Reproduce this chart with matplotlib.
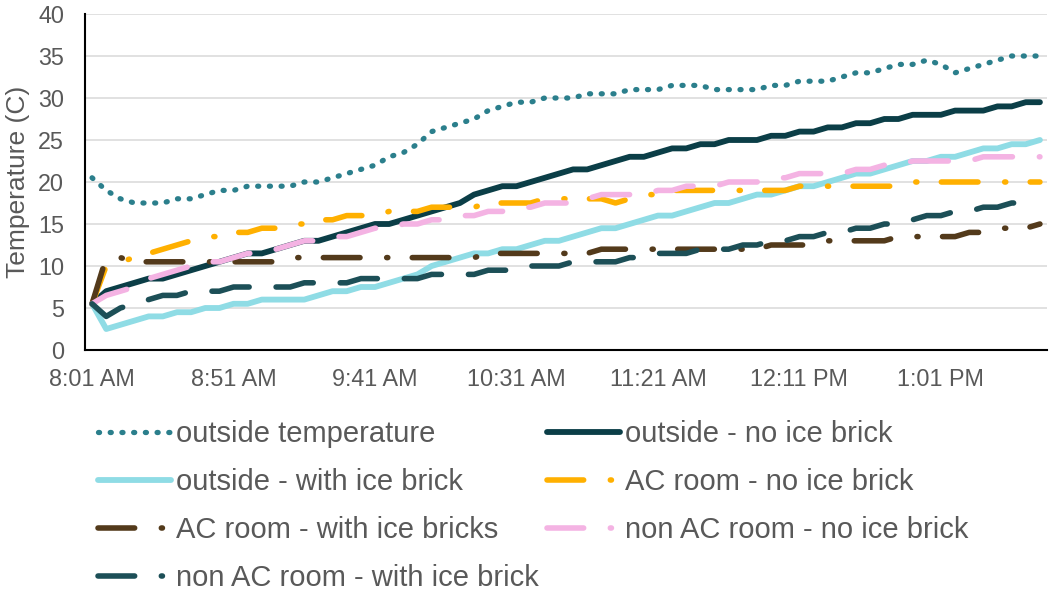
import matplotlib
matplotlib.use("Agg")
import matplotlib.pyplot as plt
from matplotlib.lines import Line2D

plt.rcParams['font.family'] = ['Liberation Sans', 'DejaVu Sans']

# Readings every 5 minutes from 8:01 AM to 1:36 PM
tick_labels = ["8:01 AM", "8:51 AM", "9:41 AM", "10:31 AM", "11:21 AM", "12:11 PM", "1:01 PM"]
tick_step = 10

outside_temp = [20.5, 19, 18, 17.5, 17.5, 17.5, 18, 18, 18.5, 19,
                19, 19.5, 19.5, 19.5, 19.5, 20, 20, 20.5, 21, 21.5,
                22, 23, 23.5, 24.5, 26, 26.5, 27, 27.5, 28.5, 29,
                29.5, 29.5, 30, 30, 30, 30.5, 30.5, 30.5, 31, 31,
                31, 31.5, 31.5, 31.5, 31, 31, 31, 31, 31.5, 31.5,
                32, 32, 32, 32.5, 33, 33, 33.5, 34, 34, 34.5,
                34, 33, 33.5, 34, 34.5, 35, 35, 35]
outside_no_ice = [5.5, 7, 7.5, 8, 8.5, 8.5, 9, 9.5, 10, 10.5,
                  11, 11.5, 11.5, 12, 12.5, 13, 13, 13.5, 14, 14.5,
                  15, 15, 15.5, 16, 16.5, 17, 17.5, 18.5, 19, 19.5,
                  19.5, 20, 20.5, 21, 21.5, 21.5, 22, 22.5, 23, 23,
                  23.5, 24, 24, 24.5, 24.5, 25, 25, 25, 25.5, 25.5,
                  26, 26, 26.5, 26.5, 27, 27, 27.5, 27.5, 28, 28,
                  28, 28.5, 28.5, 28.5, 29, 29, 29.5, 29.5]
outside_with_ice = [5.5, 2.5, 3, 3.5, 4, 4, 4.5, 4.5, 5, 5,
                    5.5, 5.5, 6, 6, 6, 6, 6.5, 7, 7, 7.5,
                    7.5, 8, 8.5, 9, 10, 10.5, 11, 11.5, 11.5, 12,
                    12, 12.5, 13, 13, 13.5, 14, 14.5, 14.5, 15, 15.5,
                    16, 16, 16.5, 17, 17.5, 17.5, 18, 18.5, 18.5, 19,
                    19.5, 19.5, 20, 20.5, 21, 21, 21.5, 22, 22.5, 22.5,
                    23, 23, 23.5, 24, 24, 24.5, 24.5, 25]
ac_no_ice = [5.5, 10, 10.5, 11, 11.5, 12, 12.5, 13, 13.5, 13.5,
             14, 14, 14.5, 14.5, 15, 15, 15.5, 15.5, 16, 16,
             16, 16.5, 16.5, 16.5, 17, 17, 17, 17, 17.5, 17.5,
             17.5, 17.5, 18, 18, 18, 18, 18, 17.5, 18, 18.5,
             18.5, 19, 19, 19, 19, 19, 19, 19, 19, 19,
             19.5, 19.5, 19.5, 19.5, 19.5, 19.5, 19.5, 19.5, 20, 20,
             20, 20, 20, 20, 20, 20, 20, 20]
ac_with_ice = [5.5, 11, 11, 10.5, 10.5, 10.5, 10.5, 10.5, 10.5, 10.5,
               10.5, 10.5, 10.5, 10.5, 11, 11, 11, 11, 11, 11,
               11, 11, 11, 11, 11, 11, 11, 11, 11.5, 11.5,
               11.5, 11.5, 11.5, 11.5, 11.5, 11.5, 12, 12, 12, 12,
               12, 12, 12, 12, 12, 12, 12, 12, 12.5, 12.5,
               12.5, 12.5, 13, 13, 13, 13, 13, 13.5, 13.5, 13.5,
               13.5, 13.5, 14, 14, 14.5, 14.5, 14.5, 15]
nonac_no_ice = [5.5, 6.5, 7, 7.5, 8.5, 9, 9.5, 10, 10.5, 10.5,
                11, 11.5, 11.5, 12, 12.5, 13, 13, 13.5, 13.5, 14,
                14.5, 14.5, 15, 15, 15.5, 15.5, 16, 16, 16.5, 16.5,
                17, 17, 17.5, 17.5, 17.5, 18, 18.5, 18.5, 18.5, 18.5,
                19, 19, 19.5, 19.5, 19.5, 20, 20, 20, 20.5, 20.5,
                21, 21, 21, 21, 21.5, 21.5, 22, 22, 22.5, 22.5,
                22.5, 22.5, 22.5, 23, 23, 23, 23, 23]
nonac_with_ice = [5.5, 4, 5, 5.5, 6, 6.5, 6.5, 7, 7, 7,
                  7.5, 7.5, 7.5, 7.5, 7.5, 8, 8, 8, 8, 8.5,
                  8.5, 8.5, 8.5, 8.5, 9, 9, 9, 9, 9.5, 9.5,
                  9.5, 10, 10, 10, 10.5, 10.5, 10.5, 10.5, 11, 11,
                  11.5, 11.5, 11.5, 12, 12, 12, 12.5, 12.5, 13, 13,
                  13.5, 13.5, 14, 14, 14.5, 14.5, 15, 15, 15.5, 16,
                  16, 16.5, 16.5, 17, 17, 17.5, 17.5, 17.5]

series_names = ["outside temperature", "outside - no ice brick", "outside - with ice brick",
                "AC room - no ice brick", "AC room - with ice bricks",
                "non AC room - no ice brick", "non AC room - with ice brick"]

# dash patterns, in multiples of the line width
DOT = (0, (0.2, 2.02))
DASH_DOT = (0, (6.6, 4.8, 0.2, 4.4))
LONG_DASH = (0, (6.8, 4.85))

styles = [
    dict(color="#2B7F8C", lw=3.8, ls=DOT, legend_ls=DOT),
    dict(color="#0B3E47", lw=4.2, ls="-", legend_ls="-"),
    dict(color="#8FDCE5", lw=4.2, ls="-", legend_ls="-"),
    dict(color="#FFB000", lw=4.0, ls=DASH_DOT, legend_ls=DASH_DOT),
    dict(color="#533A1B", lw=4.0, ls=DASH_DOT, legend_ls=DASH_DOT),
    dict(color="#F4B3E3", lw=4.0, ls=LONG_DASH, legend_ls=DASH_DOT),
    dict(color="#1C4F57", lw=4.0, ls=LONG_DASH, legend_ls=DASH_DOT),
]
data = [outside_temp, outside_no_ice, outside_with_ice, ac_no_ice,
        ac_with_ice, nonac_no_ice, nonac_with_ice]

W, H = 1051, 595
fig = plt.figure(figsize=(W / 100, H / 100), dpi=100)
ax = fig.add_axes([85 / W, 1 - 350 / H, (1047 - 85) / W, (350 - 14) / H])

x = list(range(len(outside_temp)))
handles = []
for vals, st, name in zip(data, styles, series_names):
    ax.plot(x, vals, color=st["color"], lw=st["lw"], ls=st["ls"],
            dash_capstyle="round", solid_capstyle="round",
            solid_joinstyle="round", dash_joinstyle="round")
    handles.append(Line2D([], [], color=st["color"], lw=st["lw"], ls=st["legend_ls"],
                          dash_capstyle="round", solid_capstyle="round"))

ax.set_xlim(-0.5, len(x) - 0.5)
ax.set_ylim(0, 40)
ax.set_yticks(range(0, 41, 5))
ax.set_xticks(range(0, len(x), tick_step))
ax.set_xticklabels(tick_labels)

ax.grid(axis="y", color="#D9D9D9", lw=1.1)
ax.set_axisbelow(True)
for s in ["top", "right"]:
    ax.spines[s].set_visible(False)
for s in ["left", "bottom"]:
    ax.spines[s].set_color("black")
    ax.spines[s].set_linewidth(1.5)

ax.tick_params(axis="both", length=0, labelsize=16.8, labelcolor="#595959")
ax.tick_params(axis="x", pad=13)
ax.tick_params(axis="y", pad=15)

ax.set_ylabel("Temperature (C)", fontsize=19, color="#595959")
ax.yaxis.set_label_coords((30 - 85) / 962, 0.5)

order = [0, 2, 4, 6, 1, 3, 5]
fig.legend([handles[i] for i in order], [series_names[i] for i in order],
           ncol=2, loc="upper left", bbox_to_anchor=(98 / W, 1 - 420 / H),
           frameon=False, fontsize=21, labelcolor="#595959",
           handlelength=2.5, handletextpad=0.17, columnspacing=0.3,
           labelspacing=0.69, borderpad=0, borderaxespad=0)

fig.savefig("out.png", dpi=100)
